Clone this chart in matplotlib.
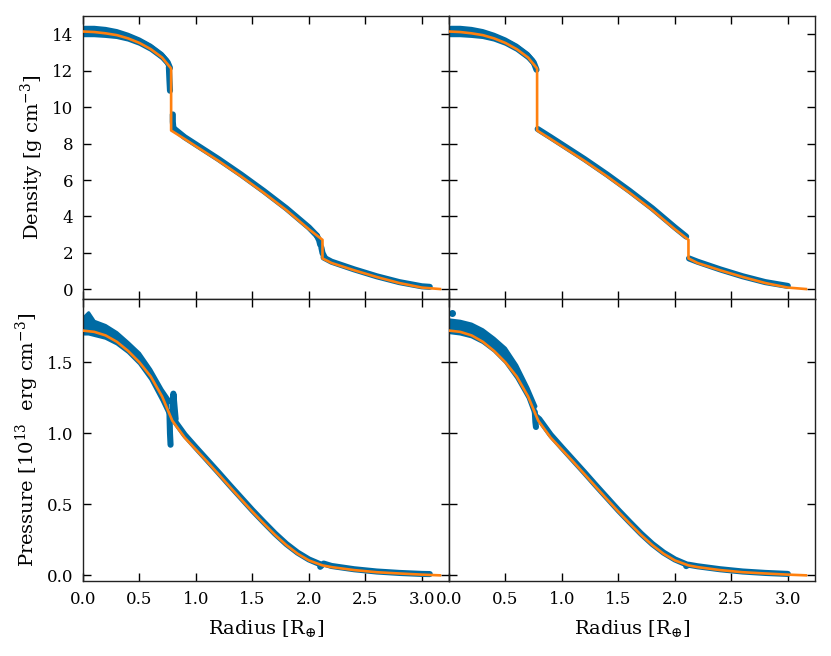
import matplotlib
matplotlib.use("Agg")
import matplotlib.pyplot as plt

plt.rcParams['font.family'] = ['DejaVu Serif']
plt.rcParams['mathtext.fontset'] = 'dejavuserif'

BLUE = '#006BA4'
ORANGE = '#FF800E'

# ---------------- reference (orange) profiles ----------------
rho_r = [0, 0.1, 0.2, 0.3, 0.4, 0.5, 0.6, 0.7, 0.78, 0.78, 0.9, 1.0, 1.2, 1.4,
         1.6, 1.8, 2.0, 2.12, 2.12, 2.2, 2.4, 2.6, 2.8, 3.0, 3.16]
rho_ref = [14.15, 14.12, 14.05, 13.95, 13.77, 13.52, 13.18, 12.72, 12.12, 8.72,
           8.25, 7.85, 7.05, 6.2, 5.3, 4.35, 3.3, 2.72, 1.7, 1.45, 1.05, 0.68,
           0.35, 0.1, 0.02]

P_r = [0, 0.1, 0.2, 0.3, 0.4, 0.5, 0.6, 0.7, 0.79, 0.9, 1.0, 1.1, 1.2, 1.3,
       1.4, 1.5, 1.6, 1.7, 1.8, 1.9, 2.0, 2.12, 2.2, 2.4, 2.6, 2.8, 3.0, 3.16]
P_ref = [1.724, 1.715, 1.69, 1.645, 1.58, 1.50, 1.40, 1.26, 1.09, 0.97, 0.885,
         0.80, 0.712, 0.623, 0.535, 0.448, 0.365, 0.285, 0.213, 0.152, 0.105,
         0.07, 0.058, 0.037, 0.022, 0.013, 0.005, 0.0]

# ---------------- particle (blue) data, left column ----------------
L_rho_core_r = [0, 0.1, 0.2, 0.3, 0.4, 0.5, 0.6, 0.7, 0.75, 0.77]
L_rho_core = [14.2, 14.2, 14.12, 14.02, 13.85, 13.6, 13.27, 12.8, 12.45, 12.15]
L_rho_fill_r = [0, 0.1, 0.2, 0.3, 0.4, 0.5, 0.6, 0.7, 0.75]
L_rho_fill_lo = [13.92, 13.92, 13.88, 13.82, 13.68, 13.45, 13.12, 12.66, 12.32]
L_rho_fill_hi = [14.38, 14.38, 14.32, 14.2, 14.0, 13.74, 13.4, 12.94, 12.58]
L_rho_s1_r = [0.76, 0.765, 0.77]
L_rho_s1 = [12.2, 11.5, 10.9]
L_rho_s2_r = [0.795, 0.795, 0.80]
L_rho_s2 = [9.6, 9.2, 8.85]
L_rho_mantle_r = [0.8, 0.9, 1.0, 1.2, 1.4, 1.6, 1.8, 2.0, 2.07]
L_rho_mantle = [8.85, 8.35, 7.95, 7.15, 6.3, 5.4, 4.45, 3.4, 2.95]
L_rho_s3_r = [2.07, 2.09, 2.1]
L_rho_s3 = [2.95, 2.7, 2.45]
L_rho_s4_r = [2.11, 2.12, 2.14]
L_rho_s4 = [2.3, 2.0, 1.75]
L_rho_crust_r = [2.13, 2.2, 2.4, 2.6, 2.8, 3.0, 3.07]
L_rho_crust = [1.75, 1.52, 1.1, 0.72, 0.4, 0.17, 0.14]

L_P_core_r = [0, 0.05, 0.1, 0.2, 0.3, 0.4, 0.5, 0.6, 0.7, 0.76]
L_P_core_lo = [1.70, 1.70, 1.69, 1.67, 1.63, 1.57, 1.49, 1.38, 1.23, 1.13]
L_P_core_hi = [1.81, 1.85, 1.79, 1.76, 1.71, 1.64, 1.565, 1.45, 1.31, 1.24]
L_P_shelf_r = [0.74, 0.78]
L_P_shelf = [1.23, 1.23]
L_P_s1_r = [0.765, 0.77, 0.775]
L_P_s1 = [1.15, 1.0, 0.92]
L_P_s2_r = [0.79, 0.80, 0.82]
L_P_s2 = [1.12, 1.28, 1.10]
L_P_mantle_r = [0.8, 0.9, 1.0, 1.1, 1.2, 1.3, 1.4, 1.5, 1.6, 1.7, 1.8, 1.9,
                2.0, 2.1]
L_P_mantle = [1.1, 0.99, 0.9, 0.812, 0.724, 0.634, 0.546, 0.458, 0.375,
              0.294, 0.221, 0.16, 0.112, 0.078]
L_P_crust_r = [2.1, 2.13, 2.2, 2.4, 2.6, 2.8, 3.0, 3.07]
L_P_crust = [0.06, 0.083, 0.066, 0.043, 0.027, 0.017, 0.01, 0.009]

# ---------------- particle (blue) data, right column ----------------
R_rho_core_r = [0, 0.1, 0.2, 0.3, 0.4, 0.5, 0.6, 0.7, 0.75, 0.775]
R_rho_core = [14.2, 14.2, 14.12, 14.02, 13.85, 13.6, 13.27, 12.8, 12.45, 12.05]
R_rho_fill_r = [0, 0.1, 0.2, 0.3, 0.4, 0.5, 0.6, 0.7, 0.75]
R_rho_fill_lo = [13.92, 13.92, 13.88, 13.82, 13.68, 13.45, 13.12, 12.66, 12.32]
R_rho_fill_hi = [14.38, 14.38, 14.32, 14.2, 14.0, 13.74, 13.4, 12.94, 12.58]
R_rho_mantle_r = [0.785, 0.9, 1.0, 1.2, 1.4, 1.6, 1.8, 2.0, 2.1]
R_rho_mantle = [8.8, 8.35, 7.95, 7.15, 6.3, 5.4, 4.45, 3.4, 2.9]
R_rho_crust_r = [2.125, 2.2, 2.4, 2.6, 2.8, 3.0]
R_rho_crust = [1.7, 1.52, 1.1, 0.72, 0.4, 0.19]

R_P_core_r = [0, 0.1, 0.2, 0.3, 0.4, 0.5, 0.6, 0.7, 0.77]
R_P_core_lo = [1.71, 1.70, 1.68, 1.64, 1.58, 1.50, 1.39, 1.25, 1.10]
R_P_core_hi = [1.80, 1.79, 1.77, 1.73, 1.67, 1.60, 1.48, 1.32, 1.19]
R_P_dot_r = [0.03]
R_P_dot = [1.85]
R_P_dip_r = [0.76, 0.765, 0.77]
R_P_dip = [1.15, 1.08, 1.045]
R_P_mantle_r = [0.77, 0.8, 0.9, 1.0, 1.1, 1.2, 1.3, 1.4, 1.5, 1.6, 1.7, 1.8,
                1.9, 2.0, 2.1]
R_P_mantle = [1.12, 1.1, 0.99, 0.9, 0.812, 0.724, 0.634, 0.546, 0.458, 0.375,
              0.294, 0.221, 0.16, 0.112, 0.078]
R_P_crust_r = [2.1, 2.12, 2.2, 2.4, 2.6, 2.8, 3.0]
R_P_crust = [0.065, 0.075, 0.064, 0.043, 0.027, 0.017, 0.01]

x_ticks = [0.0, 0.5, 1.0, 1.5, 2.0, 2.5, 3.0]
rho_ticks = [0, 2, 4, 6, 8, 10, 12, 14]
P_ticks = [0.0, 0.5, 1.0, 1.5]

fig, axes = plt.subplots(2, 2, figsize=(8.31, 6.56), dpi=100,
                         sharex=True, sharey='row')
fig.subplots_adjust(left=0.0999, right=0.9807, top=0.9756, bottom=0.1143,
                    wspace=0, hspace=0)

BLW = 4.4


def band(ax, r, v, lw=BLW):
    ax.plot(r, v, color=BLUE, lw=lw, solid_capstyle='round',
            solid_joinstyle='round', zorder=2)


def fill(ax, r, lo, hi):
    ax.fill_between(r, lo, hi, color=BLUE, lw=0, zorder=2)
    band(ax, r, lo, 2.2)
    band(ax, r, hi, 2.2)


# top-left density
ax = axes[0, 0]
fill(ax, L_rho_fill_r, L_rho_fill_lo, L_rho_fill_hi)
for r, v in [(L_rho_core_r, L_rho_core), (L_rho_s1_r, L_rho_s1),
             (L_rho_s2_r, L_rho_s2), (L_rho_mantle_r, L_rho_mantle),
             (L_rho_s3_r, L_rho_s3), (L_rho_s4_r, L_rho_s4),
             (L_rho_crust_r, L_rho_crust)]:
    band(ax, r, v)
ax.plot(rho_r, rho_ref, color=ORANGE, lw=1.9, zorder=3)

# top-right density
ax = axes[0, 1]
fill(ax, R_rho_fill_r, R_rho_fill_lo, R_rho_fill_hi)
for r, v in [(R_rho_core_r, R_rho_core), (R_rho_mantle_r, R_rho_mantle),
             (R_rho_crust_r, R_rho_crust)]:
    band(ax, r, v)
ax.plot(rho_r, rho_ref, color=ORANGE, lw=1.9, zorder=3)

# bottom-left pressure
ax = axes[1, 0]
fill(ax, L_P_core_r, L_P_core_lo, L_P_core_hi)
for r, v in [(L_P_shelf_r, L_P_shelf), (L_P_s1_r, L_P_s1),
             (L_P_s2_r, L_P_s2), (L_P_mantle_r, L_P_mantle),
             (L_P_crust_r, L_P_crust)]:
    band(ax, r, v)
ax.plot(P_r, P_ref, color=ORANGE, lw=1.9, zorder=3)

# bottom-right pressure
ax = axes[1, 1]
fill(ax, R_P_core_r, R_P_core_lo, R_P_core_hi)
ax.plot(R_P_dot_r, R_P_dot, 'o', color=BLUE, ms=4, zorder=2)
for r, v in [(R_P_dip_r, R_P_dip), (R_P_mantle_r, R_P_mantle),
             (R_P_crust_r, R_P_crust)]:
    band(ax, r, v)
ax.plot(P_r, P_ref, color=ORANGE, lw=1.9, zorder=3)

for ax in axes.flat:
    ax.set_xlim(0, 3.24)
    ax.set_xticks(x_ticks)
    ax.tick_params(direction='in', top=True, right=True, length=6,
                   width=1, labelsize=12, pad=7)
    for s in ax.spines.values():
        s.set_linewidth(1)
        s.set_color('#222222')

axes[0, 0].set_ylim(-0.5, 15)
axes[0, 0].set_yticks(rho_ticks)
axes[1, 0].set_ylim(-0.04, 1.95)
axes[1, 0].set_yticks(P_ticks)
axes[1, 0].set_yticklabels(['0.0', '0.5', '1.0', '1.5'])
axes[1, 0].set_xticklabels(['0.0', '0.5', '1.0', '1.5', '2.0', '2.5', '3.0'])

axes[0, 0].set_ylabel(r'Density [g cm$^{-3}$]', fontsize=14)
axes[1, 0].set_ylabel(r'Pressure [10$^{13}$  erg cm$^{-3}$]', fontsize=14)
axes[1, 0].set_xlabel(r'Radius [R$_{\oplus}$]', fontsize=14, labelpad=8)
axes[1, 1].set_xlabel(r'Radius [R$_{\oplus}$]', fontsize=14, labelpad=8)

fig.savefig('out.png', dpi=100)
